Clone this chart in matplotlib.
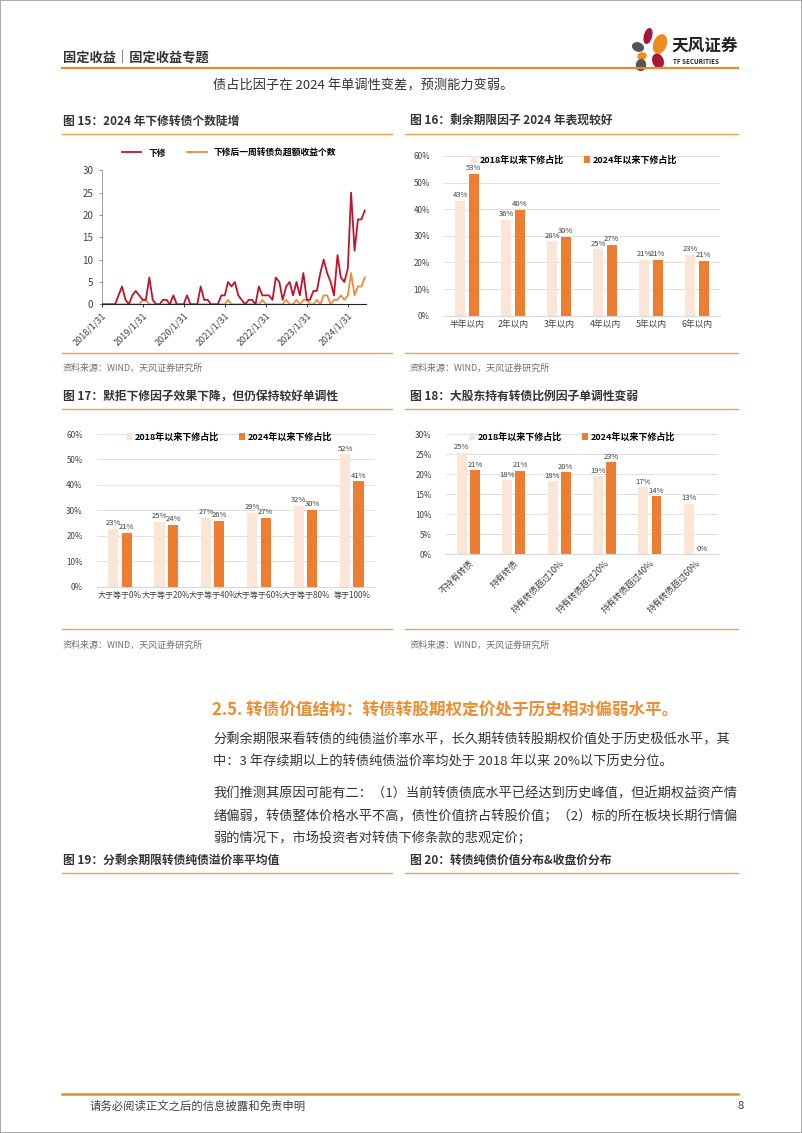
import numpy as np
import pandas as pd
import matplotlib
matplotlib.use('Agg')
import matplotlib.pyplot as plt
from matplotlib.lines import Line2D
from matplotlib.patches import Ellipse, Rectangle

plt.rcParams['font.family'] = ['Noto Sans CJK SC', 'DejaVu Sans']

W, H = 802, 1133

# 图15：月度下修个数
months = pd.date_range('2018-02-01', periods=78, freq='MS') - pd.Timedelta(days=1)
xiaxiu = [0, 0, 0, 0, 0, 2, 4, 1, 0, 2,
          3, 2, 1, 1, 6, 1, 0, 0, 1, 1,
          0, 2, 0, 0, 0, 2, 0, 0, 0, 4,
          1, 1, 0, 0, 0, 2, 2, 5, 4, 5,
          2, 1, 0, 1, 1, 0, 4, 2, 2, 2,
          1, 6, 5, 1, 4, 5, 2, 5, 2, 7,
          1, 1, 3, 3, 7, 10, 7, 5, 2, 11,
          6, 5, 8, 25, 12, 19, 19, 21]
fuchao = [0, 0, 0, 0, 0, 0, 0, 0, 0, 0,
          0, 0, 1, 1, 0, 0, 0, 0, 0, 0,
          0, 0, 0, 0, 0, 0, 0, 0, 0, 0,
          0, 0, 0, 0, 0, 0, 0, 1, 0, 0,
          0, 0, 0, 0, 0, 0, 0, 1, 0, 0,
          0, 0, 0, 0, 1, 0, 0, 1, 0, 1,
          1, 0, 0, 1, 0, 2, 2, 0, 1, 1,
          2, 1, 2, 7, 2, 4, 4, 6]
year_ticks = pd.to_datetime(['2018-01-31', '2019-01-31', '2020-01-31', '2021-01-31',
                             '2022-01-31', '2023-01-31', '2024-01-31'])

# 图16：剩余期限
cat16 = ['半年以内', '2年以内', '3年以内', '4年以内', '5年以内', '6年以内']
v16_2018 = [43.2, 36.0, 27.9, 24.9, 21.1, 22.7]
v16_2024 = [53.1, 39.6, 29.7, 26.7, 20.9, 20.7]

# 图17：默拒下修
cat17 = ['大于等于0%', '大于等于20%', '大于等于40%', '大于等于60%', '大于等于80%', '等于100%']
v17_2018 = [22.7, 25.4, 27.1, 29.0, 31.6, 52.0]
v17_2024 = [21.0, 24.2, 25.9, 27.1, 30.1, 41.4]

# 图18：大股东持有转债比例
cat18 = ['不持有转债', '持有转债', '持有转债超过10%', '持有转债超过20%', '持有转债超过40%', '持有转债超过60%']
v18_2018 = [25.3, 18.4, 18.2, 19.4, 16.7, 12.6]
v18_2024 = [21.0, 20.8, 20.4, 22.9, 14.4, 0.0]

ORANGE = '#ED7D31'
LIGHT = '#FBE5D6'
LINE_OR = '#F0A050'
TXT = '#404040'

fig = plt.figure(figsize=(W / 100, H / 100), dpi=100)


def ftext(x, y, s, **kw):
    kw.setdefault('va', 'center')
    return fig.text(x / W, 1 - y / H, s, **kw)


def hline(x1, x2, y, color=LINE_OR, lw=1.0):
    fig.add_artist(Line2D([x1 / W, x2 / W], [1 - y / H, 1 - y / H], color=color, lw=lw))


def ax_px(x0, y0, x1, y1):
    return fig.add_axes([x0 / W, 1 - y1 / H, (x1 - x0) / W, (y1 - y0) / H])


# 页面边框
fig.add_artist(Rectangle((0, 0), 1, 1, transform=fig.transFigure, fill=False,
                         edgecolor='#9A9A9A', lw=1.2))

# 页眉
ftext(63, 57, '固定收益｜固定收益专题', fontsize=9.5, fontweight='bold', color='#333333')
hline(62, 738, 68, color='#E8892F', lw=1.6)
logo = ax_px(628, 24, 672, 72)
logo.set_xlim(628, 672)
logo.set_ylim(72, 24)
logo.axis('off')
for (cx, cy, w, h, ang, c) in [(648, 36, 7, 15, 15, '#A8163A'),
                               (660, 44, 12, 19, 20, '#EE8C22'),
                               (638, 47, 11, 8, 20, '#555555'),
                               (642, 56, 8, 6, -10, '#EE8C22'),
                               (658, 61, 10, 14, -20, '#A8163A'),
                               (641, 65, 9, 11, 10, '#555555')]:
    logo.add_patch(Ellipse((cx, cy), w, h, angle=ang, color=c))
ftext(671, 46, '天风证券', fontsize=12, fontweight='bold', color='#222222')
ftext(673, 62, 'TF SECURITIES', fontsize=4.5, fontweight='bold', color='#222222')

ftext(213, 86, '债占比因子在 2024 年单调性变差，预测能力变弱。', fontsize=9.5, color='#333333')

# 图标题与分隔线
ftext(63, 121, '图 15：2024 年下修转债个数陡增', fontsize=8.5, fontweight='bold', color='#333333')
ftext(410, 121, '图 16：剩余期限因子 2024 年表现较好', fontsize=8.5, fontweight='bold', color='#333333')
hline(62, 392, 134)
hline(405, 738, 134)
hline(62, 392, 353)
hline(405, 738, 353)
ftext(63, 368, '资料来源：WIND，天风证券研究所', fontsize=6.5, color='#707070')
ftext(410, 368, '资料来源：WIND，天风证券研究所', fontsize=6.5, color='#707070')

ftext(63, 396, '图 17：默拒下修因子效果下降，但仍保持较好单调性', fontsize=8.5, fontweight='bold', color='#333333')
ftext(410, 396, '图 18：大股东持有转债比例因子单调性变弱', fontsize=8.5, fontweight='bold', color='#333333')
hline(62, 392, 409)
hline(405, 738, 409)
hline(62, 392, 629)
hline(405, 738, 629)
ftext(63, 645, '资料来源：WIND，天风证券研究所', fontsize=6.5, color='#707070')
ftext(410, 645, '资料来源：WIND，天风证券研究所', fontsize=6.5, color='#707070')

# 正文
ftext(212, 711, '2.5. 转债价值结构：转债转股期权定价处于历史相对偏弱水平。', fontsize=12,
      fontweight='bold', color='#EE8C30')
body = [(740, '分剩余期限来看转债的纯债溢价率水平，长久期转债转股期权价值处于历史极低水平，其'),
        (762, '中：3 年存续期以上的转债纯债溢价率均处于 2018 年以来 20%以下历史分位。'),
        (794, '我们推测其原因可能有二：（1）当前转债债底水平已经达到历史峰值，但近期权益资产情'),
        (816, '绪偏弱，转债整体价格水平不高，债性价值挤占转股价值；（2）标的所在板块长期行情偏'),
        (838, '弱的情况下，市场投资者对转债下修条款的悲观定价；')]
for y, s in body:
    ftext(213, y, s, fontsize=9.5, color='#333333')

ftext(63, 860, '图 19：分剩余期限转债纯债溢价率平均值', fontsize=8.5, fontweight='bold', color='#333333')
ftext(410, 860, '图 20：转债纯债价值分布&收盘价分布', fontsize=8.5, fontweight='bold', color='#333333')
hline(62, 392, 873)
hline(405, 738, 873)

# 页脚
hline(62, 738, 1094, color='#E8892F', lw=1.8)
ftext(90, 1106, '请务必阅读正文之后的信息披露和免责申明', fontsize=8.2, color='#404040')
ftext(737, 1106, '8', fontsize=8.2, color='#404040')

# ---- 图15 折线图 ----
ax = ax_px(101.7, 170.3, 365.7, 304.3)
ax.plot(months, xiaxiu, color='#C0142B', lw=1.3, label='下修', zorder=4)
ax.plot(months, fuchao, color='#F08A3C', lw=1.3, label='下修后一周转债负超额收益个数', zorder=3)
ax.set_ylim(0, 30)
ax.set_yticks(range(0, 31, 5))
ax.set_xlim(months[0], months[-1] + pd.Timedelta(days=8))
ax.set_xticks(year_ticks)
ax.set_xticklabels([d.strftime('%Y/%-m/%d') for d in year_ticks], rotation=45,
                   ha='right', rotation_mode='anchor', fontsize=6.5, color=TXT)
ax.tick_params(axis='y', labelsize=7, labelcolor=TXT, length=2.5, width=0.6, color='#808080')
ax.tick_params(axis='x', length=2.5, width=0.6, color='#222222', pad=2)
for s in ['top', 'right']:
    ax.spines[s].set_visible(False)
ax.spines['left'].set_color('#909090')
ax.spines['left'].set_linewidth(0.6)
ax.spines['bottom'].set_color('#222222')
ax.spines['bottom'].set_linewidth(0.8)
ax.legend(loc='center', bbox_to_anchor=(229 / W, 1 - 153 / H), bbox_transform=fig.transFigure,
          ncol=2, frameon=False, handlelength=2.2, columnspacing=2.5,
          prop={'weight': 'bold', 'size': 6.3})


def bar_chart(ax, cats, v_a, v_b, ymax, step, legend_xy, rot=False, catsize=6.3):
    x = np.arange(len(cats))
    off = 0.145
    ax.bar(x - off, v_a, 0.22, color=LIGHT, label='2018年以来下修占比', zorder=2)
    ax.bar(x + off, v_b, 0.22, color=ORANGE, label='2024年以来下修占比', zorder=2)
    for xi, a, b in zip(x, v_a, v_b):
        ax.text(xi - off, a + ymax * 0.012, '{:.0f}%'.format(a), ha='center', va='bottom',
                fontsize=5.5, color=TXT)
        ax.text(xi + off, b + ymax * 0.012, '{:.0f}%'.format(b), ha='center', va='bottom',
                fontsize=5.5, color=TXT)
    ax.set_xlim(-0.5, len(cats) - 0.5)
    ax.set_ylim(0, ymax)
    ax.set_yticks(np.arange(0, ymax + 0.01, step))
    ax.yaxis.set_major_formatter(lambda v, p: '{:.0f}%'.format(v))
    ax.grid(axis='y', color='#D9D9D9', lw=0.6, zorder=0)
    ax.set_axisbelow(True)
    for s in ['top', 'right', 'left']:
        ax.spines[s].set_visible(False)
    ax.spines['bottom'].set_color('#D9D9D9')
    ax.tick_params(axis='both', length=0, labelcolor=TXT)
    ax.tick_params(axis='y', labelsize=5.8, pad=10)
    ax.set_xticks(x)
    if rot:
        ax.set_xticklabels(cats, rotation=45, ha='right', rotation_mode='anchor', fontsize=catsize)
    else:
        ax.set_xticklabels(cats, fontsize=catsize)
    ax.tick_params(axis='x', pad=3)
    ax.legend(loc='center', bbox_to_anchor=(legend_xy[0] / W, 1 - legend_xy[1] / H),
              bbox_transform=fig.transFigure, ncol=2, frameon=False,
              handlelength=0.7, handleheight=0.7, handletextpad=0.3, columnspacing=2.2,
              prop={'weight': 'bold', 'size': 6.5})


ax16 = ax_px(444, 156, 720, 315.7)
bar_chart(ax16, cat16, v16_2018, v16_2024, 60, 10, (574, 160))

ax17 = ax_px(96.7, 434, 375, 586.7)
bar_chart(ax17, cat17, v17_2018, v17_2024, 60, 10, (229, 437), catsize=5.8)

ax18 = ax_px(445.7, 434, 718, 554)
bar_chart(ax18, cat18, v18_2018, v18_2024, 30, 5, (572, 437), rot=True)

fig.savefig('out.png', dpi=100)
